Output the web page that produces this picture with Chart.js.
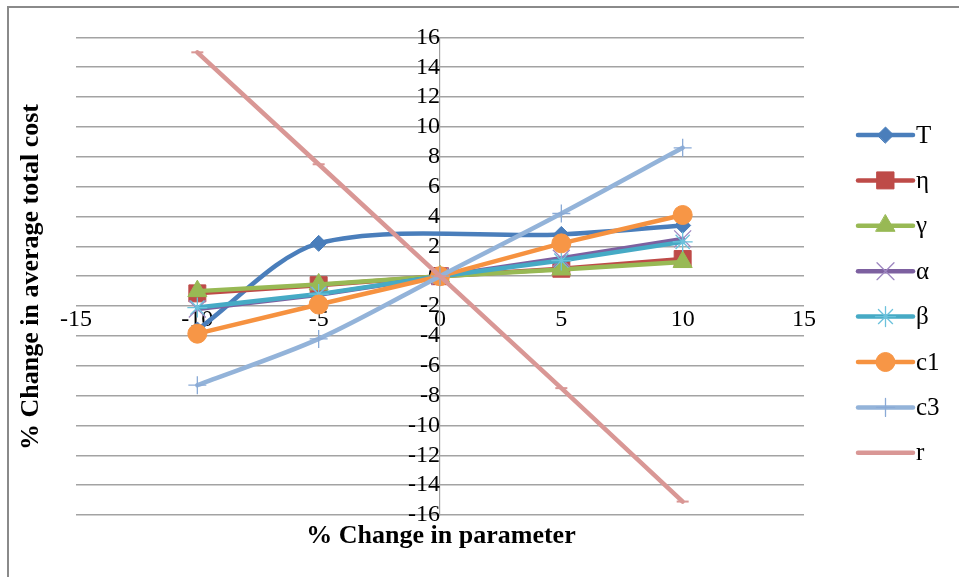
<!DOCTYPE html>
<html>
<head>
<meta charset="utf-8">
<script src="https://cdn.jsdelivr.net/npm/chart.js@4.4.1/dist/chart.umd.min.js"></script>
<style>
  html, body { margin: 0; padding: 0; background: #fff; overflow: hidden; }
  canvas { display: block; }
</style>
</head>
<body>
<canvas id="chart" width="959" height="577"></canvas>
<script>
// Sensitivity of average total cost to each parameter (% change)
const changePct = [-10, -5, 0, 5, 10];
const seriesNames = ['T', 'η', 'γ', 'α', 'β', 'c1', 'c3', 'r'];
const valuesT     = [-3.6, 2.2, null, 2.8, 3.4];
const valuesEta   = [-1.15, -0.6, 0, 0.5, 1.15];
const valuesGamma = [-1.0, -0.55, 0, 0.45, 0.95];
const valuesAlpha = [-2.2, -1.25, 0, 1.2, 2.5];
const valuesBeta  = [-2.1, -1.2, 0, 1.05, 2.3];
const valuesC1    = [-3.85, -1.9, 0, 2.2, 4.1];
const valuesC3    = [-7.3, -4.2, 0, 4.2, 8.6];
const valuesR     = [15, 7.5, 0, -7.5, -15.1];
const xTickValues = [-15, -10, -5, 0, 5, 10, 15];
const yTickValues = [-16, -14, -12, -10, -8, -6, -4, -2, 0, 2, 4, 6, 8, 10, 12, 14, 16];
const xTitle = '% Change in parameter';
const yTitle = '% Change in average total cost';

const SERIF = '"Liberation Serif", "Times New Roman", serif';
const GRID = '#a3a3a3';

const styles = [
  { line: '#4A7EBB', fill: '#4A7EBB', stroke: '#4A7EBB', shape: 'rectRot',  radius: 8,  bw: 1, tension: 0.3 },
  { line: '#BE4B48', fill: '#BE4B48', stroke: '#BE4B48', shape: 'rect',     radius: 12, bw: 1 },
  { line: '#98B954', fill: '#98B954', stroke: '#98B954', shape: 'triangle', radius: 11, bw: 1 },
  { line: '#7D60A0', fill: '#8064A2', stroke: '#9d86c0', shape: 'crossRot', radius: 12, bw: 1.3 },
  { line: '#46AAC5', fill: '#4BACC6', stroke: '#6cc2dc', shape: 'star',     radius: 10, bw: 1.3 },
  { line: '#F69240', fill: '#F79646', stroke: '#F79646', shape: 'circle',   radius: 9.5, bw: 1 },
  { line: '#93B3D9', fill: '#93B3D9', stroke: '#8aaad6', shape: 'cross',    radius: 9,  bw: 1.3, tension: 0.3 },
  { line: '#D99795', fill: '#D99795', stroke: '#D99795', shape: 'line',     radius: 6,  bw: 2 }
];
const seriesValues = [valuesT, valuesEta, valuesGamma, valuesAlpha, valuesBeta, valuesC1, valuesC3, valuesR];

const datasets = seriesNames.map((name, i) => {
  const s = styles[i];
  return {
    label: name,
    data: changePct.map((x, k) => ({ x: x, y: seriesValues[i][k] })),
    borderColor: s.line,
    borderWidth: 4.5,
    borderCapStyle: 'round',
    borderJoinStyle: 'round',
    tension: s.tension || 0,
    spanGaps: true,
    pointStyle: s.shape,
    pointRadius: s.radius,
    pointHoverRadius: s.radius,
    pointBackgroundColor: s.fill,
    pointBorderColor: s.stroke,
    pointBorderWidth: s.bw,
    order: seriesNames.length - i,
    clip: false
  };
});

// Outer frame, axis titles and the series key on the right
const decorations = {
  id: 'decorations',
  beforeDraw(chart) {
    const ctx = chart.ctx;
    ctx.save();
    ctx.fillStyle = '#fff';
    ctx.fillRect(0, 0, chart.width, chart.height);
    ctx.strokeStyle = '#8a8a8a';
    ctx.lineWidth = 2;
    ctx.beginPath();
    ctx.moveTo(8, chart.height + 5);
    ctx.lineTo(8, 7);
    ctx.lineTo(chart.width + 5, 7);
    ctx.stroke();
    ctx.restore();
  },
  afterDraw(chart) {
    const ctx = chart.ctx;
    ctx.save();
    ctx.fillStyle = '#000';
    ctx.font = 'bold 26px ' + SERIF;
    ctx.textAlign = 'center';
    ctx.textBaseline = 'middle';
    ctx.fillText(xTitle, 441, 536);
    ctx.save();
    ctx.translate(31, 277);
    ctx.rotate(-Math.PI / 2);
    ctx.fillText(yTitle, 0, 0);
    ctx.restore();

    // key
    const x0 = 858, x1 = 913, top = 135, step = 45.4;
    chart.data.datasets.forEach((ds, i) => {
      const y = top + i * step;
      ctx.strokeStyle = ds.borderColor;
      ctx.lineWidth = ds.borderWidth;
      ctx.lineCap = 'round';
      ctx.beginPath();
      ctx.moveTo(x0, y);
      ctx.lineTo(x1, y);
      ctx.stroke();
      ctx.fillStyle = ds.pointBackgroundColor;
      ctx.strokeStyle = ds.pointBorderColor;
      ctx.lineWidth = ds.pointBorderWidth;
      if (ds.pointStyle !== 'line') {
        Chart.helpers.drawPoint(ctx, {
          pointStyle: ds.pointStyle, radius: ds.pointRadius, rotation: 0, borderWidth: ds.pointBorderWidth
        }, (x0 + x1) / 2, y);
      }
      ctx.fillStyle = '#000';
      ctx.font = '25px ' + SERIF;
      ctx.textAlign = 'left';
      ctx.textBaseline = 'middle';
      ctx.fillText(ds.label, 916, y + 1);
    });
    ctx.restore();
  }
};

new Chart(document.getElementById('chart'), {
  type: 'line',
  data: { datasets },
  options: {
    responsive: false,
    animation: false,
    devicePixelRatio: 1,
    layout: { padding: { left: 76, right: 155, top: 35, bottom: 62 } },
    plugins: { legend: { display: false }, tooltip: { enabled: false } },
    events: [],
    scales: {
      x: {
        type: 'linear',
        min: -15, max: 15,
        position: { y: 0 },
        afterFit(s) { s.height = 0; },
        afterBuildTicks(s) { s.ticks = xTickValues.map(v => ({ value: v })); },
        grid: { display: false, drawTicks: false },
        border: { display: false },
        ticks: {
          color: '#000', padding: 29, maxRotation: 0, autoSkip: false,
          font: { family: SERIF, size: 24 }
        }
      },
      y: {
        type: 'linear',
        min: -16, max: 16,
        position: { x: 0 },
        afterFit(s) { s.width = 0; },
        afterBuildTicks(s) { s.ticks = yTickValues.map(v => ({ value: v })); },
        grid: { color: GRID, lineWidth: 1.6, drawTicks: false },
        border: { display: true, color: GRID, width: 1.2 },
        ticks: {
          color: '#000', padding: 23, autoSkip: false,
          font: { family: SERIF, size: 24 }
        }
      }
    }
  },
  plugins: [decorations]
});
</script>
</body>
</html>
